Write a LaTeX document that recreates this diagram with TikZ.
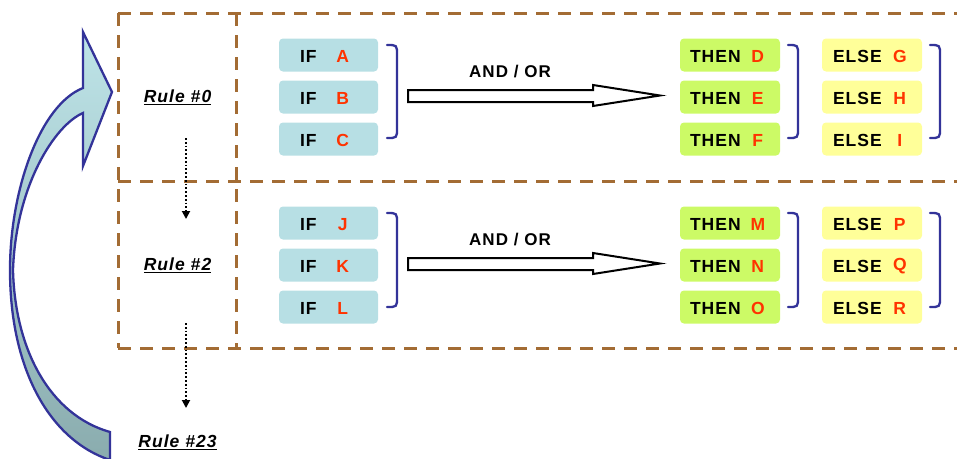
\documentclass[tikz,border=0pt]{standalone}
\usepackage{fontspec}
\setmainfont{Liberation Sans}[LetterSpace=6]
\usetikzlibrary{arrows.meta}
\definecolor{framec}{RGB}{163,108,52}
\definecolor{ifc}{RGB}{183,223,228}
\definecolor{thenc}{RGB}{204,250,102}
\definecolor{elsec}{RGB}{255,255,153}
\definecolor{letc}{RGB}{255,51,0}
\definecolor{brc}{RGB}{51,51,153}
\definecolor{arrtop}{RGB}{190,228,232}
\definecolor{arrbot}{RGB}{138,172,174}
\newcommand\mybracket[3]{\draw[brk] (#1,#2) .. controls (#1+10,#2) .. (#1+10,#2+10) -- (#1+10,#3-10) .. controls (#1+10,#3) .. (#1,#3);}
\tikzset{
  box/.style={rounded corners=4pt, minimum width=99pt, minimum height=33pt, inner sep=0pt},
  ifbox/.style={box, fill=ifc},
  thenbox/.style={box, fill=thenc, minimum width=100pt},
  elsebox/.style={box, fill=elsec, minimum width=100pt},
  kw/.style={inner sep=0pt, anchor=west, yshift=-1.5pt, font=\fontsize{17.5}{20}\selectfont\bfseries},
  let/.style={inner sep=0pt, yshift=-1.5pt, text=letc, font=\fontsize{17.5}{20}\selectfont\bfseries},
  brk/.style={draw=brc, line width=2.3pt, line cap=round},
  hollow/.style={draw=black, line width=2pt, fill=white, line join=miter},
  frame/.style={draw=framec, line width=3pt, dash pattern=on 13pt off 9pt},
  rulelbl/.style={inner sep=0pt, font=\fontsize{17.5}{20}\selectfont\bfseries\itshape},
  andor/.style={inner sep=0pt, font=\fontsize{17}{20}\selectfont\bfseries},
  dotarrow/.style={draw=black, line width=1.8pt, dash pattern=on 1.8pt off 2pt, -{Triangle[length=8pt,width=8pt]}},
  curvearrow/.style={draw=brc, line width=2.3pt, line join=miter, top color=arrtop, bottom color=arrbot}
}
\begin{document}
\begin{tikzpicture}[x=1pt,y=-1pt]
\useasboundingbox (0,0) rectangle (957,458);
\clip (0,0) rectangle (957,458);
% curved arrow
\path[curvearrow] (83,88) .. controls (40,105) and (10,190) .. (10,270)
  .. controls (10,370) and (50,440) .. (110,460) -- (110,432)
  .. controls (50,415) and (15,350) .. (13,270)
  .. controls (16,185) and (55,125) .. (83,113)
  -- (83,166) -- (112,92) -- (83,32) -- cycle;
% dashed frame
\draw[frame] (118,13) -- (975,13);
\draw[frame] (118,181) -- (975,181);
\draw[frame] (118,348) -- (975,348);
\draw[frame] (118,13) -- (118,348);
\draw[frame] (236,13) -- (236,348);
% rule labels
\node[rulelbl] (r0) at (177.5,97) {\underline{Rule \#0}};
\node[rulelbl] (r2) at (177.5,265) {\underline{Rule \#2}};
\node[rulelbl] (r23) at (177.5,442) {\underline{Rule \#23}};
\coordinate (d1s) at (186,138);
\coordinate (d1e) at (186,219);
\coordinate (d2s) at (186,323);
\coordinate (d2e) at (186,408);
\draw[dotarrow] (d1s) -- (d1e);
\draw[dotarrow] (d2s) -- (d2e);
% IF boxes
\foreach \yy/\l in {55/A,97/B,139/C,223/J,265/K,307/L}{
  \node[ifbox] (if\l) at (328.5,\yy) {};
  \node[kw] (kif\l) at ([xshift=21pt]if\l.west) {IF};
  \node[let] (lif\l) at ([xshift=64pt]if\l.west) {\l};
}
% THEN boxes
\foreach \yy/\l in {55/D,97/E,139/F,223/M,265/N,307/O}{
  \node[thenbox] (th\l) at (730,\yy) {};
  \node[kw] (kth\l) at ([xshift=10pt]th\l.west) {THEN};
  \node[let] (lth\l) at ([xshift=78pt]th\l.west) {\l};
}
% ELSE boxes
\foreach \yy/\l in {55/G,97/H,139/I,223/P,265/Q,307/R}{
  \node[elsebox] (el\l) at (872,\yy) {};
  \node[kw] (kel\l) at ([xshift=11pt]el\l.west) {ELSE};
  \node[let] (lel\l) at ([xshift=78pt]el\l.west) {\l};
}
% brackets
\mybracket{387}{45}{138}
\mybracket{387}{213}{307}
\mybracket{788}{45}{138}
\mybracket{788}{213}{307}
\mybracket{930}{45}{138}
\mybracket{930}{213}{307}
% hollow arrows
\foreach \dy/\n in {0/1,168/2}{
  \draw[hollow] (408,90+\dy) -- (593,90+\dy) -- (593,85+\dy) -- (660,95.5+\dy) -- (593,106+\dy) -- (593,102+\dy) -- (408,102+\dy) -- cycle;
  \node[andor] (ao\n) at (510,72+\dy) {AND / OR};
}
\end{tikzpicture}
\end{document}
